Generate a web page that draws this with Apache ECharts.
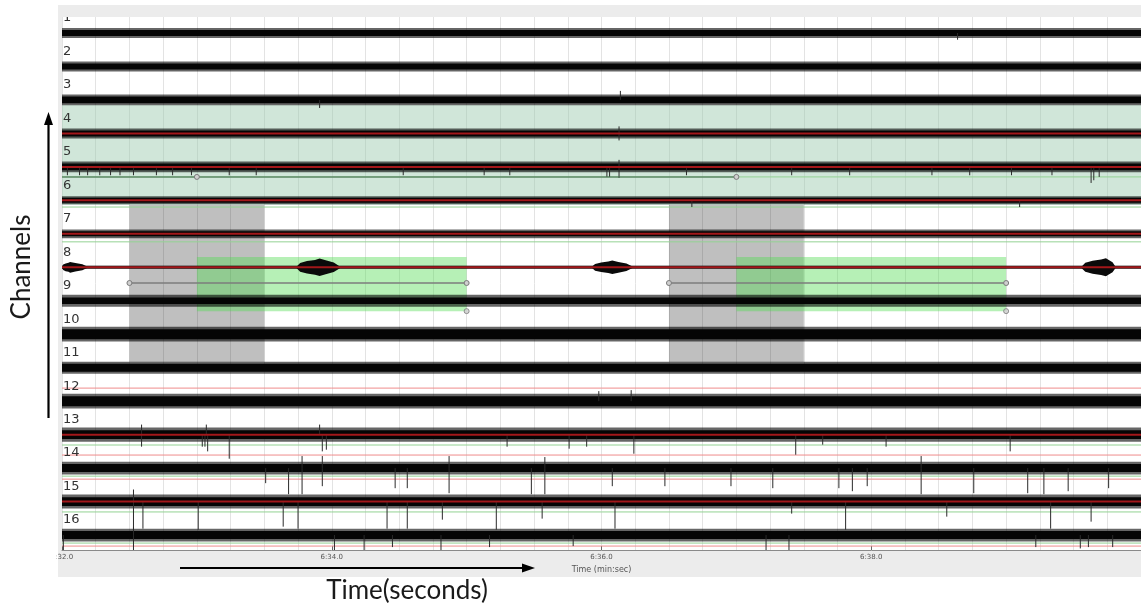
<!DOCTYPE html>
<html><head><meta charset="utf-8">
<script src="https://cdn.jsdelivr.net/npm/echarts@6/dist/echarts.min.js"></script>
<style>html,body{margin:0;padding:0;background:#fff}#c{width:1141px;height:604px}</style>
</head><body><div id="c"></div>
<script>
// ---------------- data ----------------
// time in seconds (392 s = 6:32.0)
const T_RANGE = [392, 400];
const X_TICKS = [392, 394, 396, 398];
const CHANNEL_LABELS = ['1','2','3','4','5','6','7','8','9','10','11','12','13','14','15','16'];
// half-width of the dense trace core and of its noisy fringe, in channel spacings
const CORE_HALF = [0.09,0.09,0.10,0.09,0.10,0.075,0.075,0.03,0.10,0.15,0.12,0.15,0.13,0.12,0.13,0.12];
const PEAK_HALF = [0.15,0.15,0.16,0.15,0.16,0.12,0.13,0.055,0.18,0.22,0.18,0.22,0.21,0.19,0.21,0.19];
// channels whose trace carries a dark red centre line
const RED_CENTER_CHANNELS = [4,5,6,7,8,13,15];
// threshold / marker lines (y in channel units)
const GREEN_LINES = [5.30, 6.20, 7.24, 13.31, 14.24, 15.31, 16.24];
const RED_LINES = [11.61, 13.61, 14.33, 16.33];
// shaded regions [t0, t1, yTop, yBottom]
const TEAL_BANDS = [[392, 400, 3.15, 6.14]];
const GRAY_BANDS = [[392.5, 393.5, 6.14, 10.83], [396.5, 397.5, 6.14, 10.83]];
const GREEN_BANDS = [[393, 395, 7.69, 9.31], [397, 399, 7.69, 9.31]];
// selection handles
const SEL_LINE_A = [[392.5, 8.47], [395, 8.47]];
const SEL_LINE_B = [[396.5, 8.47], [399, 8.47]];
const SEL_CORNERS = [[395, 9.31], [399, 9.31]];
const CH5_MARK_LINE = [[392, 5.30], [393, 5.30], [397, 5.30]];
// bursts on channel 8: [tStart, tPeak, tEnd, amplitude]
const CH8_BURSTS = [[392.0, 392.06, 392.19, 0.16], [393.74, 393.91, 394.06, 0.26], [395.93, 396.08, 396.23, 0.2], [399.56, 399.74, 399.81, 0.27]];
// individual spikes: [time, amplitude]  (negative = downward)
const SPIKES_CH1 = [[398.64, -0.2]];
const SPIKES_CH3 = [[393.91, -0.24], [396.14, 0.27]];
const SPIKES_CH4 = [[396.13, 0.21], [396.13, -0.21]];
const SPIKES_CH5 = [[392.04,-0.25],[392.13,-0.25],[392.19,-0.25],[392.28,-0.25],[392.36,-0.25],[392.43,-0.25],[392.53,-0.25],[392.70,-0.25],[392.82,-0.25],[392.96,-0.25],[393.24,-0.25],[393.44,-0.25],[394.53,-0.25],[395.13,-0.25],[395.32,-0.25],[396.04,-0.3],[396.06,-0.3],[396.13,-0.33],[396.13,0.21],[396.63,-0.25],[397.41,-0.25],[397.84,-0.25],[398.45,-0.25],[398.73,-0.25],[399.04,-0.25],[399.34,-0.25],[399.63,-0.48],[399.65,-0.4],[399.69,-0.3]];
const SPIKES_CH6 = [[396.67, -0.2], [399.10, -0.2]];
const SPIKES_CH12 = [[395.98, 0.3], [396.22, 0.33]];
const SPIKES_CH13 = [[392.59,-0.36],[392.59,0.3],[393.04,-0.36],[393.06,-0.36],[393.07,0.3],[393.08,-0.5],[393.24,-0.72],[393.91,0.3],[393.93,-0.5],[393.96,-0.45],[395.30,-0.36],[395.76,-0.42],[395.89,-0.36],[396.24,-0.57],[397.44,-0.6],[397.64,-0.3],[398.11,-0.36],[399.03,-0.5]];
const SPIKES_CH14 = [[393.51,-0.45],[393.68,-0.78],[393.78,-0.78],[393.78,0.36],[393.93,-0.54],[393.93,0.36],[394.47,-0.6],[394.56,-0.6],[394.87,-0.75],[394.87,0.36],[395.48,-0.78],[395.58,-0.78],[395.58,0.33],[396.08,-0.54],[396.47,-0.54],[396.96,-0.54],[397.27,-0.6],[397.76,-0.6],[397.86,-0.69],[397.97,-0.54],[398.37,-0.78],[398.37,0.36],[398.76,-0.75],[399.16,-0.75],[399.28,-0.78],[399.46,-0.69],[399.76,-0.6]];
const SPIKES_CH15 = [[392.53,-0.81],[392.53,0.36],[392.60,-0.81],[393.01,-0.84],[393.64,-0.75],[393.75,-0.81],[394.41,-0.81],[394.56,-0.81],[394.82,-0.54],[395.22,-0.84],[395.56,-0.51],[396.10,-0.81],[397.41,-0.36],[397.81,-0.84],[398.56,-0.45],[399.33,-0.81],[399.63,-0.6]];
const SPIKES_CH16 = [[392.01,-0.45],[392.53,-0.45],[392.53,0.24],[394.02,-0.5],[394.24,-0.45],[394.45,-0.36],[394.81,-0.45],[395.17,-0.36],[395.79,-0.33],[397.22,-0.45],[397.39,-0.45],[399.22,-0.36],[399.55,-0.4],[399.61,-0.36],[399.79,-0.36]];
const SPIKES_BY_CHANNEL = {1: SPIKES_CH1, 3: SPIKES_CH3, 4: SPIKES_CH4, 5: SPIKES_CH5, 6: SPIKES_CH6, 12: SPIKES_CH12, 13: SPIKES_CH13, 14: SPIKES_CH14, 15: SPIKES_CH15, 16: SPIKES_CH16};

// ---------------- build series data ----------------
const envelopeData = CHANNEL_LABELS.map((l, i) => [T_RANGE[0], T_RANGE[1], i + 1, CORE_HALF[i], PEAK_HALF[i]]);
const spikeData = [];
Object.keys(SPIKES_BY_CHANNEL).forEach(ch => SPIKES_BY_CHANNEL[ch].forEach(s => spikeData.push([s[0], +ch, s[1]])));
const burstData = CH8_BURSTS.map(b => [b[0], b[1], b[2], 8, b[3]]);
const redCenterData = RED_CENTER_CHANNELS.map(ch => [T_RANGE[0], T_RANGE[1], ch]);
const greenLineData = GREEN_LINES.map(y => [T_RANGE[0], T_RANGE[1], y]);
const redLineData = RED_LINES.map(y => [T_RANGE[0], T_RANGE[1], y]);
const labelData = CHANNEL_LABELS.map((l, i) => [T_RANGE[0], i + 1]);

function fmtTime(v) {
  const m = Math.floor(v / 60), s = v - m * 60;
  return m + ':' + (s < 10 ? '0' : '') + s.toFixed(1);
}

function rectRender(fill) {
  return function (p, api) {
    const a = api.coord([api.value(0), api.value(2)]);
    const b = api.coord([api.value(1), api.value(3)]);
    return { type: 'rect', shape: { x: a[0], y: a[1], width: b[0] - a[0], height: b[1] - a[1] }, style: { fill: fill } };
  };
}
function hLineRender(stroke, width) {
  return function (p, api) {
    const a = api.coord([api.value(0), api.value(2)]);
    const b = api.coord([api.value(1), api.value(2)]);
    return { type: 'line', shape: { x1: a[0], y1: a[1], x2: b[0], y2: b[1] }, style: { stroke: stroke, lineWidth: width } };
  };
}
function envelopeRender(p, api) {
  const ch = api.value(2), core = api.value(3), peak = api.value(4);
  const a = api.coord([api.value(0), ch - peak]), b = api.coord([api.value(1), ch + peak]);
  const c = api.coord([api.value(0), ch - core]), d = api.coord([api.value(1), ch + core]);
  return { type: 'group', children: [
    { type: 'rect', shape: { x: a[0], y: a[1], width: b[0] - a[0], height: b[1] - a[1] }, style: { fill: 'rgba(0,0,0,0.6)' } },
    { type: 'rect', shape: { x: c[0], y: c[1], width: d[0] - c[0], height: d[1] - c[1] }, style: { fill: '#050505' } }
  ] };
}
function spikeRender(p, api) {
  const t = api.value(0), ch = api.value(1), amp = api.value(2);
  const a = api.coord([t, ch]), b = api.coord([t, ch - amp]);
  return { type: 'line', shape: { x1: a[0], y1: a[1], x2: b[0], y2: b[1] }, style: { stroke: '#2a2a2a', lineWidth: 1 } };
}
function burstRender(p, api) {
  const t0 = api.value(0), tp = api.value(1), t1 = api.value(2), ch = api.value(3), amp = api.value(4);
  const w0 = tp - t0, w1 = t1 - tp;
  const prof = [[t0, 0.1], [t0 + 0.15 * w0, 0.5], [t0 + 0.45 * w0, 0.72], [t0 + 0.8 * w0, 0.85], [tp, 1],
                [tp + 0.3 * w1, 0.8], [tp + 0.7 * w1, 0.55], [t1, 0.1]];
  const top = prof.map(q => api.coord([q[0], ch - q[1] * amp]));
  const bot = prof.slice().reverse().map(q => api.coord([q[0], ch + q[1] * amp]));
  return { type: 'polygon', shape: { points: top.concat(bot) }, style: { fill: '#0a0a0a' } };
}
function labelRender(p, api) {
  const pos = api.coord([api.value(0), api.value(1)]);
  return { type: 'text', x: pos[0] + 1, y: pos[1] - 15, style: { text: CHANNEL_LABELS[p.dataIndex], fill: '#333', font: '13px "DejaVu Sans"', verticalAlign: 'middle', align: 'left' } };
}

const selSymbol = { symbol: 'circle', symbolSize: 5, itemStyle: { color: '#cfcfcf', borderColor: '#7a7a7a', borderWidth: 1 } };

const option = {
  backgroundColor: '#ffffff',
  animation: false,
  grid: { left: 62, right: 0, top: 17, bottom: 54, show: false },
  xAxis: [{
    type: 'value', min: T_RANGE[0], max: T_RANGE[1], interval: 0.25, z: 3,
    axisLine: { lineStyle: { color: '#8a8a8a', width: 1 } },
    axisTick: { customValues: X_TICKS, inside: true, length: 4, lineStyle: { color: '#666' } },
    axisLabel: { customValues: X_TICKS, formatter: fmtTime, fontSize: 7, color: '#555', margin: 4, fontFamily: 'DejaVu Sans' },
    splitLine: { show: false },
    name: 'Time (min:sec)', nameLocation: 'middle', nameGap: 14,
    nameTextStyle: { fontSize: 8, color: '#555', fontFamily: 'DejaVu Sans' }
  }, {
    type: 'value', min: T_RANGE[0], max: T_RANGE[1], interval: 0.25, position: 'bottom', z: 0,
    axisLine: { show: false }, axisTick: { show: false }, axisLabel: { show: false },
    splitLine: { show: true, lineStyle: { color: '#e3e3e3', width: 1 } }
  }],
  yAxis: { type: 'value', inverse: true, min: 0.522, max: 16.447, show: false },
  graphic: [
    { type: 'rect', z: -10, shape: { x: 58, y: 5, width: 1083, height: 572 }, style: { fill: '#ececec' } },
    { type: 'rect', z: -9, shape: { x: 62, y: 17, width: 1079, height: 533 }, style: { fill: '#ffffff' } },
    { type: 'rect', z: 100, shape: { x: 0, y: 551, width: 56.5, height: 16 }, style: { fill: '#ffffff' } },
    { type: 'text', z: 100, x: 22, y: 267, rotation: Math.PI / 2, style: { text: 'Channels', font: '26px Lato', fill: '#1a1a1a', align: 'center', verticalAlign: 'middle' } },
    { type: 'text', z: 100, x: 407, y: 591, style: { text: 'Time(seconds)', font: '26px Lato', fill: '#1a1a1a', align: 'center', verticalAlign: 'middle' } },
    { type: 'polyline', z: 100, shape: { points: [[48.5, 418], [48.5, 124]] }, style: { stroke: '#000', lineWidth: 2.2 } },
    { type: 'polygon', z: 100, shape: { points: [[48.5, 112], [44, 125], [53, 125]] }, style: { fill: '#000' } },
    { type: 'polyline', z: 100, shape: { points: [[180, 568], [522, 568]] }, style: { stroke: '#000', lineWidth: 2.2 } },
    { type: 'polygon', z: 100, shape: { points: [[535, 568], [522, 563.5], [522, 572.5]] }, style: { fill: '#000' } }
  ],
  series: [
    { type: 'custom', name: 'teal', z: 1, clip: true, encode: { x: [0, 1], y: [2, 3] }, data: TEAL_BANDS, renderItem: rectRender('rgba(150,200,170,0.45)'), silent: true },
    { type: 'custom', name: 'gray', z: 2, clip: true, encode: { x: [0, 1], y: [2, 3] }, data: GRAY_BANDS, renderItem: rectRender('rgba(0,0,0,0.25)'), silent: true },
    { type: 'custom', name: 'green', z: 3, clip: true, encode: { x: [0, 1], y: [2, 3] }, data: GREEN_BANDS, renderItem: rectRender('rgba(80,220,80,0.42)'), silent: true },
    { type: 'custom', name: 'greenLines', z: 4, clip: true, encode: { x: [0, 1], y: 2 }, data: greenLineData, renderItem: hLineRender('#93d293', 1), silent: true },
    { type: 'custom', name: 'redLines', z: 4, clip: true, encode: { x: [0, 1], y: 2 }, data: redLineData, renderItem: hLineRender('#ef8c8c', 1), silent: true },
    { type: 'custom', name: 'envelope', z: 5, clip: true, encode: { x: [0, 1], y: 2 }, data: envelopeData, renderItem: envelopeRender, silent: true },
    { type: 'custom', name: 'bursts', z: 5, clip: true, encode: { x: [0, 1, 2], y: 3 }, data: burstData, renderItem: burstRender, silent: true },
    { type: 'custom', name: 'spikes', z: 5, clip: true, encode: { x: 0, y: 1 }, data: spikeData, renderItem: spikeRender, silent: true },
    { type: 'custom', name: 'redCenter', z: 6, clip: true, encode: { x: [0, 1], y: 2 }, data: redCenterData, renderItem: hLineRender('#a3171a', 2), silent: true },
    { type: 'line', name: 'ch5mark', z: 7, data: CH5_MARK_LINE.map((d, i) => i === 0 ? { value: d, symbol: 'none' } : { value: d }), showSymbol: true, ...selSymbol, lineStyle: { color: 'rgba(70,110,80,0.75)', width: 1.5 }, silent: true },
    { type: 'line', name: 'selA', z: 7, data: SEL_LINE_A, showSymbol: true, ...selSymbol, lineStyle: { color: '#7d7d7d', width: 1.5 }, silent: true },
    { type: 'line', name: 'selB', z: 7, data: SEL_LINE_B, showSymbol: true, ...selSymbol, lineStyle: { color: '#7d7d7d', width: 1.5 }, silent: true },
    { type: 'scatter', name: 'selCorners', z: 7, data: SEL_CORNERS, ...selSymbol, silent: true },
    { type: 'custom', name: 'labels', z: 8, clip: true, encode: { x: 0, y: 1 }, data: labelData, renderItem: labelRender, silent: true }
  ]
};
const chart = echarts.init(document.getElementById('c'));
chart.setOption(option);
</script>
</body></html>
